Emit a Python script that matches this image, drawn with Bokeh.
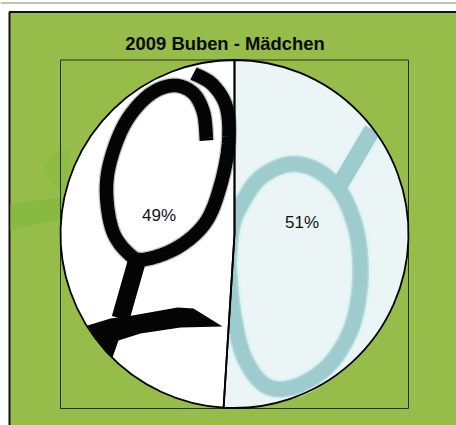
import numpy as np
from bokeh.plotting import figure
from bokeh.models import Range1d
from bokeh.core.properties import value
from bokeh.embed import file_html
from bokeh.resources import INLINE

title = "2009 Buben - Mädchen"
categories = ["Mädchen", "Buben"]
shares = [51, 49]
slice_colors = ["#ECF5F6", "#FFFFFF"]

GREEN = "#96BC4A"
CX, CY, R = 234.0, 233.5, 174.0

def X(xs): return [x - CX for x in xs]
def Y(ys): return [CY - y for y in ys]

def smooth(pts, n=12):
    """Catmull-Rom path through the sketched stroke points of the picture fill."""
    P = np.array(pts, float)
    P = np.vstack([P[0], P, P[-1]])
    out = []
    for i in range(1, len(P) - 2):
        for t in np.linspace(0, 1, n, endpoint=False):
            a = 2 * P[i] + (P[i + 1] - P[i - 1]) * t
            b = (2 * P[i - 1] - 5 * P[i] + 4 * P[i + 1] - P[i + 2]) * t * t
            c = (-P[i - 1] + 3 * P[i] - 3 * P[i + 1] + P[i + 2]) * t ** 3
            out.append(0.5 * (a + b + c))
    out.append(P[-2])
    out = np.array(out)
    return X(out[:, 0]), Y(out[:, 1])

p = figure(width=456, height=425, output_backend="svg", toolbar_location=None,
           x_range=Range1d(0 - CX, 456 - CX), y_range=Range1d(CY - 425, CY - 0),
           min_border=0, outline_line_color=None, background_fill_color="white",
           border_fill_color="white")
p.axis.visible = False
p.grid.visible = False

# rule above the panel
p.line(X([0, 456]), Y([2.5, 2.5]), line_color="#B0AD9C", line_width=1.5)

# green panel with its black frame
p.patch(X([9, 456, 456, 9]), Y([11.5, 11.5, 425, 425]), fill_color=GREEN,
        line_color=None)
p.line(X([9, 9, 456]), Y([425, 11.5, 11.5]), line_color="#111111", line_width=2)

# faint background shapes of the panel
p.patch(X([62, 52, 45, 44, 49, 60, 66, 70]), Y([149, 155, 163, 169, 178, 190, 190, 149]),
        fill_color="#8DBB45", line_color=None)
p.patch(X([10, 35, 60, 70, 70, 60, 20, 10]), Y([204, 200, 197, 197, 216, 219, 227, 230]),
        fill_color="#88BA41", line_color=None)

# plot area box
p.line(X([60, 408, 408, 60, 60]), Y([59.5, 59.5, 408, 408, 59.5]),
       line_color="#22301A", line_width=1)

# slices: first slice starts at 12 o'clock and runs clockwise
fractions = np.array(shares, float) / sum(shares)
edges = np.concatenate([[0], np.cumsum(fractions)])
starts = np.pi / 2 - 2 * np.pi * edges[:-1]
ends = np.pi / 2 - 2 * np.pi * edges[1:]

# pale slice with its picture fill
p.wedge(0, 0, R, start_angle=starts[0], end_angle=ends[0], direction="clock",
        fill_color=slice_colors[0], line_color=None)
teal_ring = [(228, 262), (232, 225), (243, 200), (260, 177), (287, 164), (313, 168),
             (337, 187), (352, 217), (359, 250), (359, 290), (350, 330), (328, 365),
             (295, 386), (265, 385), (243, 355), (232, 307), (228, 262)]
teal_arm = [(336, 190), (372, 129)]
xs, ys = smooth(teal_ring)
p.line(xs, ys, line_color="#E0F6F5", line_width=22)
p.line(X([336, 370]), Y([190, 133]), line_color="#E0F6F5", line_width=22)
p.line(xs, ys, line_color="#BAD9DB", line_width=17)
p.line(xs, ys, line_color="#9ECCCE", line_width=14)
p.line(X([a for a, b in teal_arm]), Y([b for a, b in teal_arm]),
       line_color="#9ECCCE", line_width=17)

# white slice with its picture fill
p.wedge(0, 0, R, start_angle=starts[1], end_angle=ends[1], direction="clock",
        fill_color=slice_colors[1], line_color=None)
ring = [(206, 140), (203, 112), (192, 92), (172, 85), (148, 95), (125, 122), (110, 160),
        (106, 193), (112, 230), (127, 252), (143, 259), (177, 247), (205, 222),
        (220, 185), (228, 143), (226, 107), (212, 84), (193, 73)]
xs, ys = smooth(ring)
p.line(xs, ys, line_color="#7A7A7A", line_width=16, line_alpha=0.45)
p.line(xs, ys, line_color="#050505", line_width=13.5)
p.line(X([136, 120]), Y([262, 318]), line_color="#050505", line_width=18)
p.patch(X([87, 110, 132, 177, 193, 222, 180, 140, 118, 112, 98]),
        Y([325, 318, 315, 307, 308, 326, 327, 333, 340, 357, 342]),
        fill_color="#050505", line_color=None)

# slice outlines drawn on top
p.wedge(0, 0, R, start_angle=starts, end_angle=ends, direction="clock",
        fill_color=None, line_color="black", line_width=1.8)

# texts
p.text(X([224.5]), Y([42.5]), text=[title], text_font=value("Liberation Sans"),
       text_font_style="bold", text_font_size="18.4px", text_align="center",
       text_baseline="middle", text_color="#0A0A0A")
p.text(X([301.5, 158.5]), Y([222, 215]), text=[f"{v}%" for v in shares],
       text_font=value("Liberation Sans"), text_font_size="17px",
       text_align="center", text_baseline="middle", text_color="#111111")

open("out.html", "w").write(file_html(p, INLINE))
